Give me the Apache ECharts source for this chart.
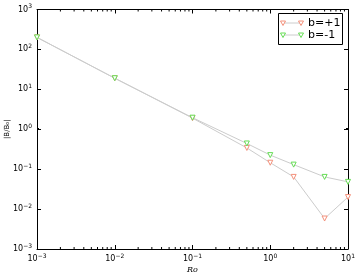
<!DOCTYPE html>
<html>
<head>
<meta charset="utf-8">
<script src="https://cdn.jsdelivr.net/npm/echarts@6/dist/echarts.min.js"></script>
<style>html,body{margin:0;padding:0;background:#fff;}#c{width:361px;height:279px;}</style>
</head>
<body>
<div id="c"></div>
<script>
// ---- data ----
const ro = [0.001, 0.01, 0.1, 0.5, 1, 2, 5, 10];
const bPlus = [200, 19, 1.9, 0.34, 0.145, 0.064, 0.0058, 0.020];
const bMinus = [200, 19, 1.95, 0.44, 0.225, 0.13, 0.064, 0.048];
const seriesNames = ['b=+1', 'b=-1'];
const xRange = [0.001, 10];
const yRange = [0.001, 1000];

const colPlus = '#f4907a';
const colMinus = '#66dd55';
const lineCol = '#cccccc';
const font = 'DejaVu Sans';

function minorVals(lo, hi) {
  const out = [];
  for (let e = Math.round(Math.log10(lo)); e < Math.round(Math.log10(hi)); e++) {
    for (let m = 2; m <= 9; m++) out.push(m * Math.pow(10, e));
  }
  return out;
}
const xMinor = minorVals(xRange[0], xRange[1]);
const yMinor = minorVals(yRange[0], yRange[1]);

function fmt(v) {
  const e = Math.round(Math.log10(v));
  return '{b|10}{s|' + (e < 0 ? '\u2212' + (-e) : e) + '}';
}
const rich = {
  b: {fontSize: 8, fontFamily: font, color: '#000'},
  s: {fontSize: 6, fontFamily: font, color: '#000', padding: [0, 0, 6, 0]}
};

const baseAxis = (extra) => Object.assign({
  type: 'log', logBase: 10,
  axisLine: {show: true, lineStyle: {color: '#000', width: 1}},
  axisTick: {show: true, inside: true, length: 4, lineStyle: {color: '#000'}},
  splitLine: {show: false},
  minorTick: {show: false}
}, extra);

const chart = echarts.init(document.getElementById('c'), null, {renderer: 'canvas'});

const mk = (name, vals, col) => ({
  name: name, type: 'line',
  data: ro.map((x, i) => [x, vals[i]]),
  lineStyle: {color: lineCol, width: 1},
  symbol: 'triangle', symbolRotate: 180, symbolSize: 5,
  itemStyle: {color: '#fff', borderColor: col, borderWidth: 1},
  showAllSymbol: true,
  clip: true,
  z: 3
});

function tickRender(isX) {
  return function (params, api) {
    const v = api.value(0);
    const len = 2;
    const lines = [];
    if (isX) {
      const p0 = api.coord([v, yRange[0]]);
      const p1 = api.coord([v, yRange[1]]);
      lines.push([p0[0], p0[1], p0[0], p0[1] - len]);
      lines.push([p1[0], p1[1], p1[0], p1[1] + len]);
    } else {
      const p0 = api.coord([xRange[0], v]);
      const p1 = api.coord([xRange[1], v]);
      lines.push([p0[0], p0[1], p0[0] + len, p0[1]]);
      lines.push([p1[0], p1[1], p1[0] - len, p1[1]]);
    }
    return {
      type: 'group',
      children: lines.map(l => ({
        type: 'line',
        shape: {x1: l[0], y1: l[1], x2: l[2], y2: l[3]},
        style: {stroke: '#000', lineWidth: 1}
      }))
    };
  };
}

const legY = [23, 35];
const legCols = [colPlus, colMinus];
const tri = (cx, cy, col) => ({
  type: 'polygon',
  shape: {points: [[cx - 2.5, cy - 2], [cx + 2.5, cy - 2], [cx, cy + 2.5]]},
  style: {fill: '#fff', stroke: col, lineWidth: 1},
  z: 101
});
const legendGraphics = [{
  type: 'rect', shape: {x: 278.5, y: 13.5, width: 64, height: 31},
  style: {fill: '#fff', stroke: '#000', lineWidth: 1}, z: 100
}];
seriesNames.forEach((n, i) => {
  legendGraphics.push({
    type: 'line', shape: {x1: 283, y1: legY[i], x2: 301, y2: legY[i]},
    style: {stroke: lineCol, lineWidth: 1}, z: 101
  });
  legendGraphics.push(tri(283, legY[i], legCols[i]));
  legendGraphics.push(tri(301, legY[i], legCols[i]));
  legendGraphics.push({
    type: 'text', x: 308, y: legY[i],
    style: {text: n, font: '11px "DejaVu Sans"', fill: '#000', textVerticalAlign: 'middle'},
    z: 101
  });
});

chart.setOption({
  animation: false,
  backgroundColor: '#fff',
  grid: {left: 37, right: 13, top: 9.5, bottom: 30, show: false, containLabel: false, outerBoundsMode: 'none'},
  xAxis: [
    baseAxis({
      min: xRange[0], max: xRange[1], position: 'bottom',
      axisLabel: {formatter: fmt, rich: rich, margin: 4},
      name: 'Ro', nameLocation: 'middle', nameGap: 17, nameMoveOverlap: false,
      nameTextStyle: {fontFamily: 'DejaVu Serif', fontStyle: 'italic', fontSize: 8, color: '#000'}
    }),
    baseAxis({min: xRange[0], max: xRange[1], position: 'top', axisLabel: {show: false}})
  ],
  yAxis: [
    baseAxis({
      min: yRange[0], max: yRange[1], position: 'left',
      axisLabel: {formatter: fmt, rich: rich, margin: 5},
      name: '|B/B\u2080|', nameLocation: 'middle', nameGap: 26, nameMoveOverlap: false,
      nameTextStyle: {fontFamily: font, fontSize: 7, color: '#000'}
    }),
    baseAxis({min: yRange[0], max: yRange[1], position: 'right', axisLabel: {show: false}})
  ],
  series: [
    mk(seriesNames[0], bPlus, colPlus),
    mk(seriesNames[1], bMinus, colMinus),
    {
      type: 'custom', renderItem: tickRender(true),
      data: xMinor.map(v => [v, 1]), silent: true, clip: false, z: 5
    },
    {
      type: 'custom', renderItem: tickRender(false),
      data: yMinor.map(v => [1, v]), silent: true, clip: false, z: 5
    }
  ],
  graphic: legendGraphics
});
</script>
</body>
</html>
